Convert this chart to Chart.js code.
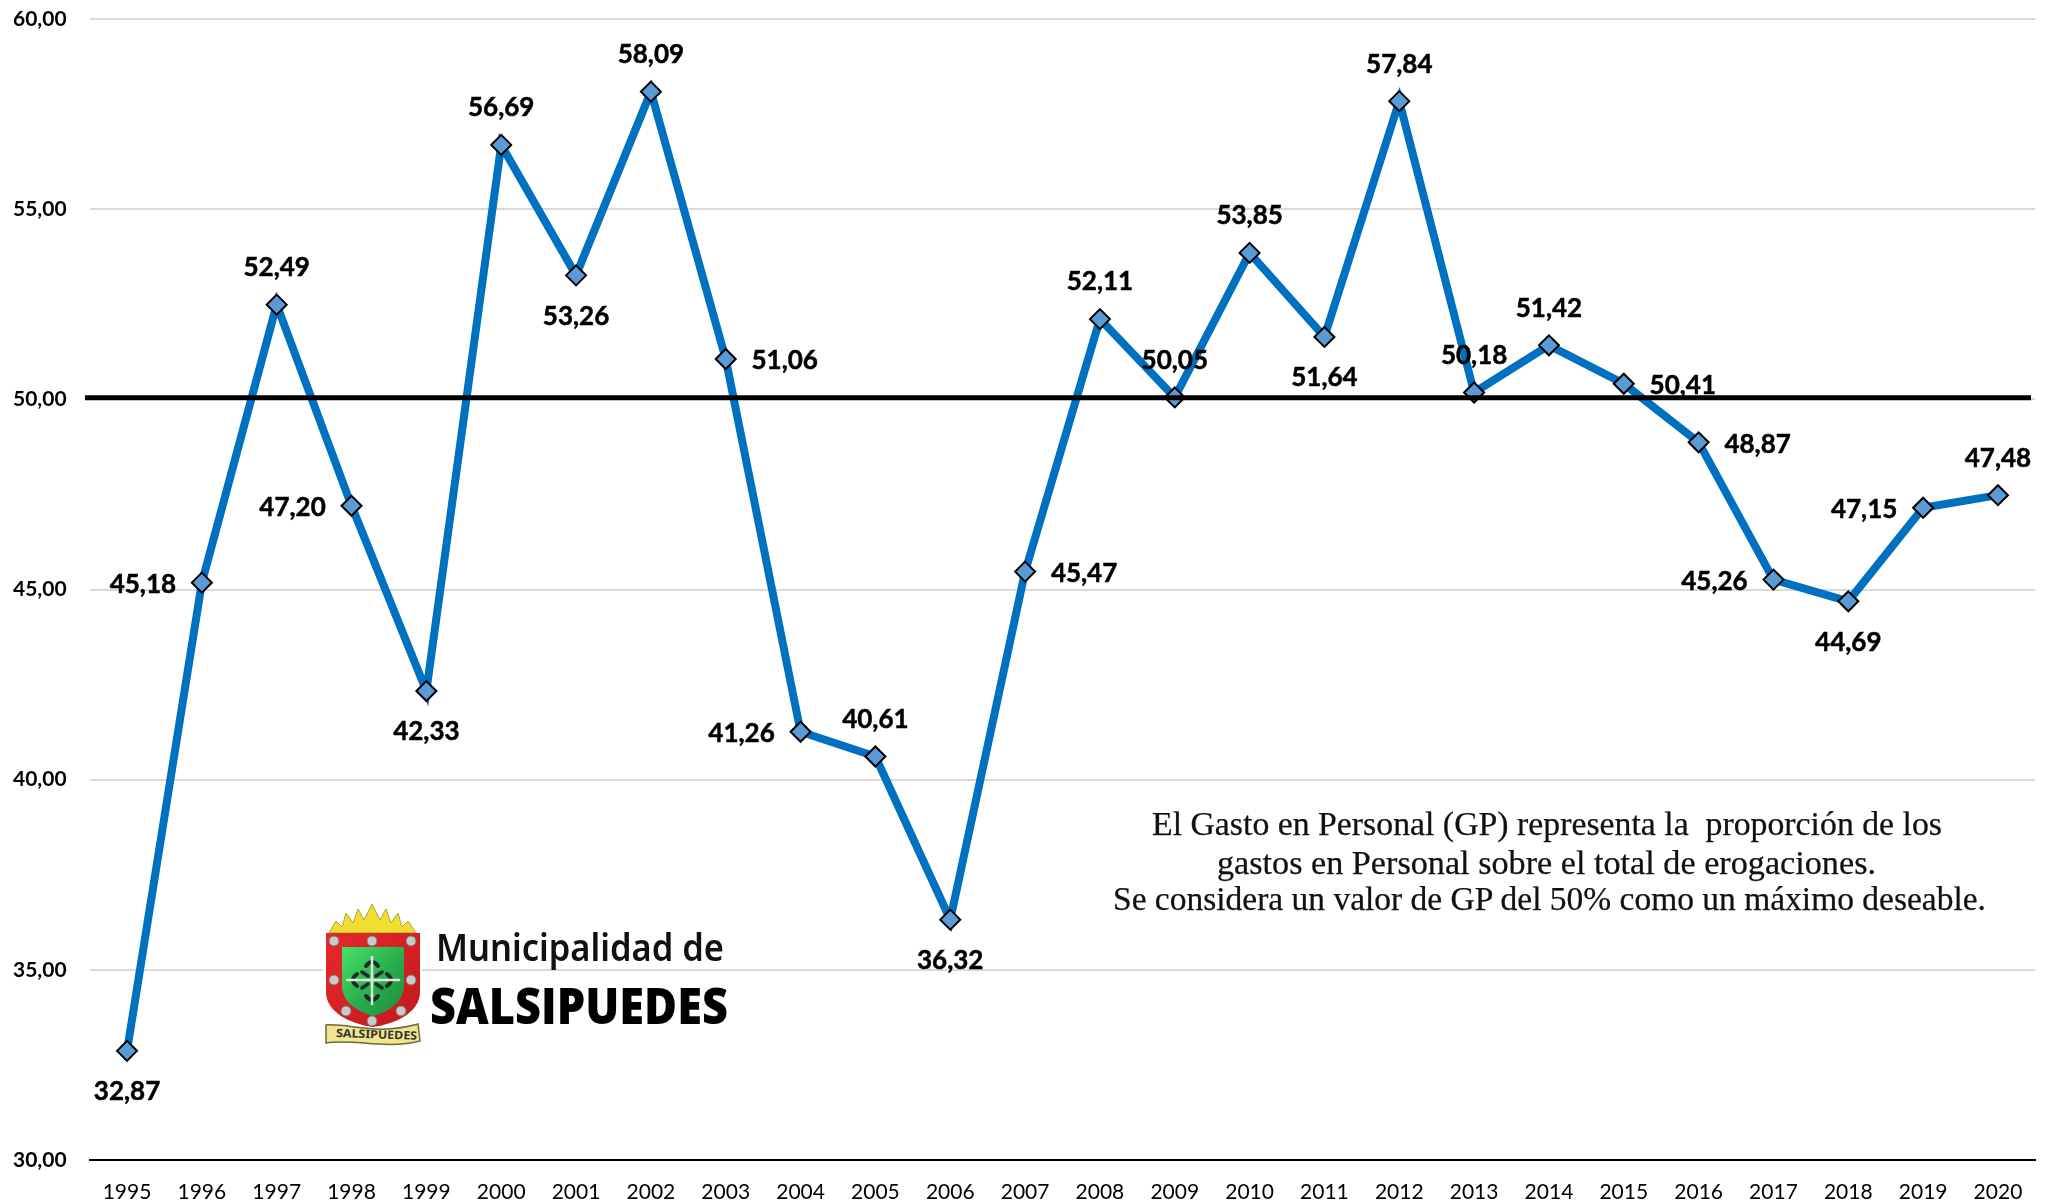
<!DOCTYPE html>
<html lang="es">
<head>
<meta charset="utf-8">
<title>Gasto en Personal - Municipalidad de Salsipuedes</title>
<script src="https://cdn.jsdelivr.net/npm/chart.js@4"></script>
<style>
html,body{margin:0;padding:0;background:#fff;}
#wrap{position:relative;width:2053px;height:1200px;overflow:hidden;}
canvas{position:absolute;left:0;top:0;}
#overlay{position:absolute;left:0;top:0;pointer-events:none;}
#overlay text.note{white-space:pre;}
</style>
</head>
<body>
<div id="wrap">
<canvas id="c" width="2053" height="1200"></canvas>
<svg id="overlay" width="2053" height="1200" viewBox="0 0 2053 1200" xmlns="http://www.w3.org/2000/svg">
  <defs>
    <linearGradient id="green" x1="0" y1="0" x2="1" y2="1">
      <stop offset="0" stop-color="#45E266"/><stop offset="0.6" stop-color="#26A84A"/><stop offset="1" stop-color="#1E8E3E"/>
    </linearGradient>
    <linearGradient id="red" x1="0" y1="0" x2="1" y2="1">
      <stop offset="0" stop-color="#E6282A"/><stop offset="1" stop-color="#C4181C"/>
    </linearGradient>
  </defs>
  <rect x="323" y="903" width="99" height="144" fill="#fff"/>
  <polygon points="329,933 336,921 342,927 346,913 353,923 358,909 364,920 372,904 380,920 386,909 391,923 398,913 402,927 408,921 416,933" fill="#F2DE2E" stroke="#A8A445" stroke-width="1"/>
  <path d="M326,933 H420 V992 C420,1012 396,1024 373,1027 C350,1024 326,1012 326,992 Z" fill="url(#red)"/>
  <path d="M342,947 H404 V986 C404,1002 388,1012 373,1016 C358,1012 342,1002 342,986 Z" fill="url(#green)"/>
  <g fill="none" stroke-linecap="round">
    <path d="M366,966 Q372,958 378,966 M366,996 Q372,1004 378,996 M357,974 Q349,980 357,986 M387,974 Q395,980 387,986" stroke="#1d2b22" stroke-width="4"/>
    <path d="M362,972 L368,976 M382,972 L376,976 M362,988 L368,984 M382,988 L376,984" stroke="#1d2b22" stroke-width="3.5"/>
    <path d="M372,957 V1004 M347,980 H399" stroke-width="2.5" stroke="#DDE8DD"/>
  </g>
  <g fill="#C9C9C9" stroke="#777" stroke-width="1">
    <circle cx="334" cy="941" r="5"/><circle cx="372" cy="941" r="5"/><circle cx="411" cy="941" r="5"/>
    <circle cx="334" cy="980" r="5"/><circle cx="411" cy="980" r="5"/>
    <circle cx="346" cy="1011" r="5"/><circle cx="401" cy="1011" r="5"/><circle cx="372" cy="1021" r="5"/>
  </g>
  <path d="M326,1025 C350,1023 375,1036 418,1024 L420,1041 C385,1050 352,1038 326,1043 Z" fill="#F1E58E" stroke="#6b6a3a" stroke-width="1.5"/>
  <text x="336" y="1037" font-family="'Noto Sans',sans-serif" font-size="11.5" font-weight="700" fill="#333" textLength="81" lengthAdjust="spacingAndGlyphs" transform="rotate(2 336 1037)">SALSIPUEDES</text>
  <text x="436" y="961" font-family="'Noto Sans',sans-serif" font-size="37" font-weight="600" fill="#111" textLength="288" lengthAdjust="spacingAndGlyphs">Municipalidad de</text>
  <text x="430" y="1024" font-family="'Open Sans',sans-serif" font-size="49" font-weight="800" fill="#000" textLength="298" lengthAdjust="spacingAndGlyphs">SALSIPUEDES</text>
  <g font-family="'Liberation Serif',serif" font-size="33" fill="#111" stroke="#111" stroke-width="0.25">
    <text class="note" x="1152" y="835" textLength="790" lengthAdjust="spacingAndGlyphs">El Gasto en Personal (GP) representa la  proporción de los</text>
    <text class="note" x="1217" y="874" textLength="659" lengthAdjust="spacingAndGlyphs">gastos en Personal sobre el total de erogaciones.</text>
    <text class="note" x="1113" y="910" textLength="873" lengthAdjust="spacingAndGlyphs">Se considera un valor de GP del 50% como un máximo deseable.</text>
  </g>
</svg>
</div>
<script>
const years = ['1995','1996','1997','1998','1999','2000','2001','2002','2003','2004','2005','2006','2007','2008','2009','2010','2011','2012','2013','2014','2015','2016','2017','2018','2019','2020'];
const gastoPersonal = [32.87,45.18,52.49,47.20,42.33,56.69,53.26,58.09,51.06,41.26,40.61,36.32,45.47,52.11,50.05,53.85,51.64,57.84,50.18,51.42,50.41,48.87,45.26,44.69,47.15,47.48];
const maximoDeseable = 50;
const labelSide = ['below','left','above','left','below','above','below','above','right','left','above','below','right','above','above','above','below','above','above','above','right','right','left','below','left','above'];

const comma = v => v.toFixed(2).replace('.', ',');
const sideOffset = {above:[0,-37], below:[0,41], left:[-59,2], right:[59,2]};

const overlayPlugin = {
  id: 'overlayPlugin',
  afterDatasetsDraw(chart) {
    const {ctx, scales} = chart;
    const y = scales.y.getPixelForValue(maximoDeseable) - 1.5;
    ctx.save();
    ctx.strokeStyle = '#000';
    ctx.lineWidth = 5;
    ctx.beginPath();
    ctx.moveTo(85, y);
    ctx.lineTo(2031, y);
    ctx.stroke();
    const pts = chart.getDatasetMeta(0).data;
    ctx.fillStyle = '#000';
    ctx.strokeStyle = '#000';
    ctx.lineWidth = 0.5;
    ctx.font = 'bold 26px Lato, sans-serif';
    ctx.textAlign = 'center';
    ctx.textBaseline = 'middle';
    pts.forEach((p, i) => {
      const o = sideOffset[labelSide[i]];
      ctx.fillText(comma(gastoPersonal[i]), p.x + o[0], p.y + o[1]);
      ctx.strokeText(comma(gastoPersonal[i]), p.x + o[0], p.y + o[1]);
    });
    ctx.restore();
  }
};

new Chart(document.getElementById('c'), {
  type: 'line',
  data: {
    labels: years,
    datasets: [{
      label: 'Gasto en Personal',
      data: gastoPersonal,
      borderColor: '#0070C0',
      borderWidth: 8,
      tension: 0,
      pointStyle: 'rectRot',
      pointRadius: 10,
      pointBackgroundColor: '#5B9BD5',
      pointBorderColor: '#000',
      pointBorderWidth: 2
    }]
  },
  options: {
    responsive: false,
    animation: false,
    devicePixelRatio: 1,
    layout: {padding: {top: 19, right: 17.6, bottom: 0, left: 0}},
    plugins: {legend: {display: false}, title: {display: false}, tooltip: {enabled: false}},
    scales: {
      x: {
        offset: true,
        afterFit(s) { s.height = 40; s.paddingLeft = 0; s.paddingRight = 0; },
        grid: {display: false, drawTicks: false},
        border: {display: true, color: '#000', width: 2},
        ticks: {color: '#000', padding: 20, maxRotation: 0, autoSkip: false, font: {family: 'Lato, sans-serif', size: 21}}
      },
      y: {
        min: 30, max: 60,
        afterFit(s) { s.width = 89.6; s.paddingTop = 0; s.paddingBottom = 0; },
        grid: {color: '#D9D9D9', lineWidth: 2, drawTicks: false},
        border: {display: false},
        ticks: {
          stepSize: 5, padding: 23, color: '#000',
          font: {family: 'Lato, sans-serif', size: 21, weight: 'bold'},
          callback: v => comma(v)
        }
      }
    }
  },
  plugins: [overlayPlugin]
});
</script>
</body>
</html>
